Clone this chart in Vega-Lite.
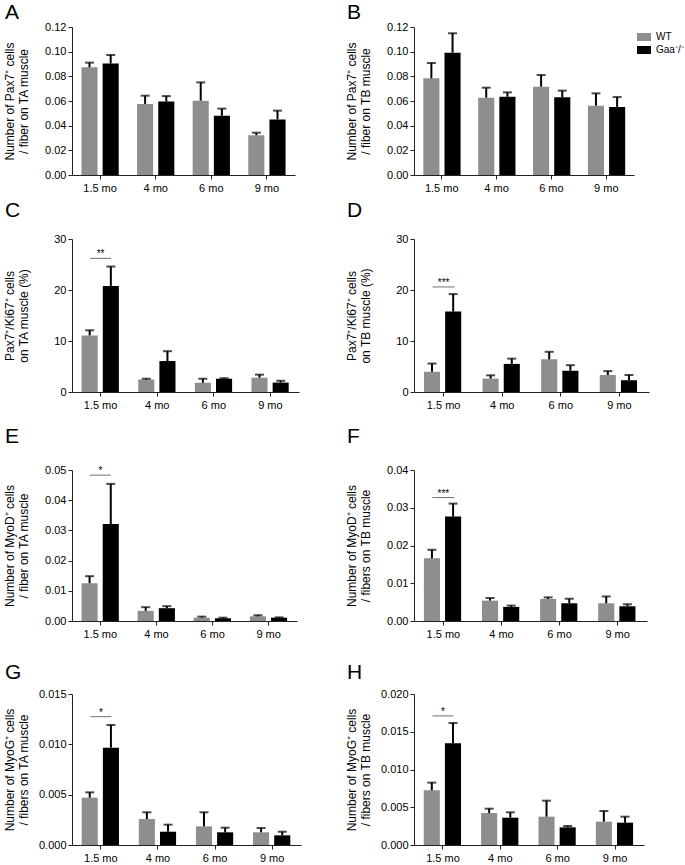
{
  "$schema": "https://vega.github.io/schema/vega-lite/v6.json",
  "padding": {"left": 3, "top": 2, "right": 0, "bottom": 0},
  "background": "white",
  "datasets": {
    "bars": [
      {"p": "A", "a": "1.5 mo", "g": "WT", "m": 0.0873, "u": 0.0911},
      {"p": "A", "a": "1.5 mo", "g": "Gaa⁻/⁻", "m": 0.0905, "u": 0.0973},
      {"p": "A", "a": "4 mo", "g": "WT", "m": 0.0576, "u": 0.0643},
      {"p": "A", "a": "4 mo", "g": "Gaa⁻/⁻", "m": 0.0595, "u": 0.064},
      {"p": "A", "a": "6 mo", "g": "WT", "m": 0.0603, "u": 0.0751},
      {"p": "A", "a": "6 mo", "g": "Gaa⁻/⁻", "m": 0.0481, "u": 0.0538},
      {"p": "A", "a": "9 mo", "g": "WT", "m": 0.0322, "u": 0.0343},
      {"p": "A", "a": "9 mo", "g": "Gaa⁻/⁻", "m": 0.0451, "u": 0.0522},
      {"p": "B", "a": "1.5 mo", "g": "WT", "m": 0.0784, "u": 0.0908},
      {"p": "B", "a": "1.5 mo", "g": "Gaa⁻/⁻", "m": 0.0992, "u": 0.1149},
      {"p": "B", "a": "4 mo", "g": "WT", "m": 0.0627, "u": 0.0708},
      {"p": "B", "a": "4 mo", "g": "Gaa⁻/⁻", "m": 0.0635, "u": 0.067},
      {"p": "B", "a": "6 mo", "g": "WT", "m": 0.0716, "u": 0.0811},
      {"p": "B", "a": "6 mo", "g": "Gaa⁻/⁻", "m": 0.063, "u": 0.0684},
      {"p": "B", "a": "9 mo", "g": "WT", "m": 0.0562, "u": 0.0662},
      {"p": "B", "a": "9 mo", "g": "Gaa⁻/⁻", "m": 0.0551, "u": 0.0632},
      {"p": "C", "a": "1.5 mo", "g": "WT", "m": 11.1, "u": 12.1},
      {"p": "C", "a": "1.5 mo", "g": "Gaa⁻/⁻", "m": 20.8, "u": 24.6},
      {"p": "C", "a": "4 mo", "g": "WT", "m": 2.44, "u": 2.6},
      {"p": "C", "a": "4 mo", "g": "Gaa⁻/⁻", "m": 6.07, "u": 8.0},
      {"p": "C", "a": "6 mo", "g": "WT", "m": 1.8, "u": 2.6},
      {"p": "C", "a": "6 mo", "g": "Gaa⁻/⁻", "m": 2.6, "u": 2.7},
      {"p": "C", "a": "9 mo", "g": "WT", "m": 2.8, "u": 3.4},
      {"p": "C", "a": "9 mo", "g": "Gaa⁻/⁻", "m": 1.85, "u": 2.2},
      {"p": "D", "a": "1.5 mo", "g": "WT", "m": 3.97, "u": 5.58},
      {"p": "D", "a": "1.5 mo", "g": "Gaa⁻/⁻", "m": 15.77, "u": 19.2},
      {"p": "D", "a": "4 mo", "g": "WT", "m": 2.63, "u": 3.27},
      {"p": "D", "a": "4 mo", "g": "Gaa⁻/⁻", "m": 5.51, "u": 6.54},
      {"p": "D", "a": "6 mo", "g": "WT", "m": 6.41, "u": 7.88},
      {"p": "D", "a": "6 mo", "g": "Gaa⁻/⁻", "m": 4.17, "u": 5.26},
      {"p": "D", "a": "9 mo", "g": "WT", "m": 3.33, "u": 4.1},
      {"p": "D", "a": "9 mo", "g": "Gaa⁻/⁻", "m": 2.31, "u": 3.33},
      {"p": "E", "a": "1.5 mo", "g": "WT", "m": 0.0125, "u": 0.01484},
      {"p": "E", "a": "1.5 mo", "g": "Gaa⁻/⁻", "m": 0.0321, "u": 0.0454},
      {"p": "E", "a": "4 mo", "g": "WT", "m": 0.00335, "u": 0.00458},
      {"p": "E", "a": "4 mo", "g": "Gaa⁻/⁻", "m": 0.00424, "u": 0.00491},
      {"p": "E", "a": "6 mo", "g": "WT", "m": 0.0011, "u": 0.00145},
      {"p": "E", "a": "6 mo", "g": "Gaa⁻/⁻", "m": 0.0009, "u": 0.0011},
      {"p": "E", "a": "9 mo", "g": "WT", "m": 0.00156, "u": 0.0019},
      {"p": "E", "a": "9 mo", "g": "Gaa⁻/⁻", "m": 0.0011, "u": 0.0012},
      {"p": "F", "a": "1.5 mo", "g": "WT", "m": 0.0166, "u": 0.01887},
      {"p": "F", "a": "1.5 mo", "g": "Gaa⁻/⁻", "m": 0.02765, "u": 0.0311},
      {"p": "F", "a": "4 mo", "g": "WT", "m": 0.00539, "u": 0.00609},
      {"p": "F", "a": "4 mo", "g": "Gaa⁻/⁻", "m": 0.00374, "u": 0.00409},
      {"p": "F", "a": "6 mo", "g": "WT", "m": 0.00583, "u": 0.00626},
      {"p": "F", "a": "6 mo", "g": "Gaa⁻/⁻", "m": 0.0047, "u": 0.0059},
      {"p": "F", "a": "9 mo", "g": "WT", "m": 0.0047, "u": 0.0065},
      {"p": "F", "a": "9 mo", "g": "Gaa⁻/⁻", "m": 0.0039, "u": 0.00443},
      {"p": "G", "a": "1.5 mo", "g": "WT", "m": 0.0047, "u": 0.00523},
      {"p": "G", "a": "1.5 mo", "g": "Gaa⁻/⁻", "m": 0.00967, "u": 0.01192},
      {"p": "G", "a": "4 mo", "g": "WT", "m": 0.00258, "u": 0.00325},
      {"p": "G", "a": "4 mo", "g": "Gaa⁻/⁻", "m": 0.00132, "u": 0.00202},
      {"p": "G", "a": "6 mo", "g": "WT", "m": 0.00185, "u": 0.00325},
      {"p": "G", "a": "6 mo", "g": "Gaa⁻/⁻", "m": 0.00126, "u": 0.00172},
      {"p": "G", "a": "9 mo", "g": "WT", "m": 0.00126, "u": 0.00169},
      {"p": "G", "a": "9 mo", "g": "Gaa⁻/⁻", "m": 0.00096, "u": 0.00132},
      {"p": "H", "a": "1.5 mo", "g": "WT", "m": 0.00724, "u": 0.00826},
      {"p": "H", "a": "1.5 mo", "g": "Gaa⁻/⁻", "m": 0.01347, "u": 0.01616},
      {"p": "H", "a": "4 mo", "g": "WT", "m": 0.00424, "u": 0.00481},
      {"p": "H", "a": "4 mo", "g": "Gaa⁻/⁻", "m": 0.00362, "u": 0.00433},
      {"p": "H", "a": "6 mo", "g": "WT", "m": 0.00375, "u": 0.00587},
      {"p": "H", "a": "6 mo", "g": "Gaa⁻/⁻", "m": 0.00234, "u": 0.00252},
      {"p": "H", "a": "9 mo", "g": "WT", "m": 0.00309, "u": 0.0045},
      {"p": "H", "a": "9 mo", "g": "Gaa⁻/⁻", "m": 0.00296, "u": 0.00375}
    ],
    "sig": [
      {"p": "C", "a": "1.5 mo", "y": 26.2, "s": "**"},
      {"p": "D", "a": "1.5 mo", "y": 20.6, "s": "***"},
      {"p": "E", "a": "1.5 mo", "y": 0.0483, "s": "*"},
      {"p": "F", "a": "1.5 mo", "y": 0.0327, "s": "***"},
      {"p": "G", "a": "1.5 mo", "y": 0.01275, "s": "*"},
      {"p": "H", "a": "1.5 mo", "y": 0.0171, "s": "*"}
    ]
  },
  "resolve": {"scale": {"color": "independent"}, "legend": {"color": "independent"}},
  "vconcat": [
    {
      "resolve": {"scale": {"color": "independent"}, "legend": {"color": "independent"}},
      "hconcat": [
        {
          "width": 223, "height": 148,
          "title": {"text": "A", "offset": -2},
          "data": {"name": "bars"},
          "transform": [{"filter": "datum.p === 'A'"}],
          "layer": [
            {"mark": {"type": "bar"}, "encoding": {
              "x": {"field": "a", "type": "nominal", "sort": ["1.5 mo", "4 mo", "6 mo", "9 mo"], "scale": {"paddingInner": 0.33, "paddingOuter": 0.17}, "title": null},
              "xOffset": {"field": "g", "type": "nominal", "sort": ["WT", "Gaa⁻/⁻"], "scale": {"paddingInner": 0.24}},
              "y": {"field": "m", "type": "quantitative", "scale": {"domain": [0, 0.12], "nice": false}, "axis": {"values": [0, 0.02, 0.04, 0.06, 0.08, 0.1, 0.12], "tickCount": 20, "format": ".2f", "title": ["Number of Pax7⁺ cells", "/ fiber on TA muscle"]}},
              "color": {"field": "g", "type": "nominal", "sort": ["WT", "Gaa⁻/⁻"], "scale": {"domain": ["WT", "Gaa⁻/⁻"], "range": ["#8e8e8e", "#000000"]}, "legend": null}}},
            {"mark": {"type": "rule", "strokeWidth": 2, "color": "#000"}, "encoding": {
              "x": {"field": "a", "type": "nominal", "sort": ["1.5 mo", "4 mo", "6 mo", "9 mo"], "title": null},
              "xOffset": {"field": "g", "type": "nominal", "sort": ["WT", "Gaa⁻/⁻"]},
              "y": {"field": "m", "type": "quantitative"}, "y2": {"field": "u"}}},
            {"mark": {"type": "tick", "size": 9, "thickness": 2, "color": "#000"}, "encoding": {
              "x": {"field": "a", "type": "nominal", "sort": ["1.5 mo", "4 mo", "6 mo", "9 mo"], "title": null},
              "xOffset": {"field": "g", "type": "nominal", "sort": ["WT", "Gaa⁻/⁻"]},
              "y": {"field": "u", "type": "quantitative"}}}
          ]
        },
        {
          "width": 220, "height": 148,
          "title": {"text": "B", "offset": -2},
          "data": {"name": "bars"},
          "transform": [{"filter": "datum.p === 'B'"}],
          "layer": [
            {"mark": {"type": "bar"}, "encoding": {
              "x": {"field": "a", "type": "nominal", "sort": ["1.5 mo", "4 mo", "6 mo", "9 mo"], "scale": {"paddingInner": 0.33, "paddingOuter": 0.17}, "title": null},
              "xOffset": {"field": "g", "type": "nominal", "sort": ["WT", "Gaa⁻/⁻"], "scale": {"paddingInner": 0.24}},
              "y": {"field": "m", "type": "quantitative", "scale": {"domain": [0, 0.12], "nice": false}, "axis": {"values": [0, 0.02, 0.04, 0.06, 0.08, 0.1, 0.12], "tickCount": 20, "format": ".2f", "title": ["Number of Pax7⁺ cells", "/ fiber on TB muscle"]}},
              "color": {"field": "g", "type": "nominal", "sort": ["WT", "Gaa⁻/⁻"], "scale": {"domain": ["WT", "Gaa⁻/⁻"], "range": ["#8e8e8e", "#000000"]}, "legend": {"orient": "right", "offset": 0, "padding": 3, "title": null}}}},
            {"mark": {"type": "rule", "strokeWidth": 2, "color": "#000"}, "encoding": {
              "x": {"field": "a", "type": "nominal", "sort": ["1.5 mo", "4 mo", "6 mo", "9 mo"], "title": null},
              "xOffset": {"field": "g", "type": "nominal", "sort": ["WT", "Gaa⁻/⁻"]},
              "y": {"field": "m", "type": "quantitative"}, "y2": {"field": "u"}}},
            {"mark": {"type": "tick", "size": 9, "thickness": 2, "color": "#000"}, "encoding": {
              "x": {"field": "a", "type": "nominal", "sort": ["1.5 mo", "4 mo", "6 mo", "9 mo"], "title": null},
              "xOffset": {"field": "g", "type": "nominal", "sort": ["WT", "Gaa⁻/⁻"]},
              "y": {"field": "u", "type": "quantitative"}}}
          ]
        }
      ],
      "spacing": 50
    },
    {
      "resolve": {"scale": {"color": "independent"}, "legend": {"color": "independent"}},
      "vconcat": [
        {
          "resolve": {"scale": {"color": "independent"}, "legend": {"color": "independent"}},
          "hconcat": [
            {
              "width": 227, "height": 153,
              "title": {"text": "C", "offset": 12},
              "layer": [
                {"data": {"name": "bars"}, "transform": [{"filter": "datum.p === 'C'"}], "mark": {"type": "bar"}, "encoding": {
                  "x": {"field": "a", "type": "nominal", "sort": ["1.5 mo", "4 mo", "6 mo", "9 mo"], "scale": {"paddingInner": 0.33, "paddingOuter": 0.17}, "title": null},
                  "xOffset": {"field": "g", "type": "nominal", "sort": ["WT", "Gaa⁻/⁻"], "scale": {"paddingInner": 0.24}},
                  "y": {"field": "m", "type": "quantitative", "scale": {"domain": [0, 30], "nice": false}, "axis": {"values": [0, 10, 20, 30], "tickCount": 20, "format": "d", "title": ["Pax7⁺/Ki67⁺ cells", "on TA muscle (%)"]}},
                  "color": {"field": "g", "type": "nominal", "sort": ["WT", "Gaa⁻/⁻"], "scale": {"domain": ["WT", "Gaa⁻/⁻"], "range": ["#8e8e8e", "#000000"]}, "legend": null}}},
                {"data": {"name": "bars"}, "transform": [{"filter": "datum.p === 'C'"}], "mark": {"type": "rule", "strokeWidth": 2, "color": "#000"}, "encoding": {
                  "x": {"field": "a", "type": "nominal", "sort": ["1.5 mo", "4 mo", "6 mo", "9 mo"], "title": null},
                  "xOffset": {"field": "g", "type": "nominal", "sort": ["WT", "Gaa⁻/⁻"]},
                  "y": {"field": "m", "type": "quantitative"}, "y2": {"field": "u"}}},
                {"data": {"name": "bars"}, "transform": [{"filter": "datum.p === 'C'"}], "mark": {"type": "tick", "size": 9, "thickness": 2, "color": "#000"}, "encoding": {
                  "x": {"field": "a", "type": "nominal", "sort": ["1.5 mo", "4 mo", "6 mo", "9 mo"], "title": null},
                  "xOffset": {"field": "g", "type": "nominal", "sort": ["WT", "Gaa⁻/⁻"]},
                  "y": {"field": "u", "type": "quantitative"}}},
                {"data": {"name": "sig"}, "transform": [{"filter": "datum.p === 'C'"}], "mark": {"type": "tick", "size": 21, "thickness": 1, "color": "#333"}, "encoding": {
                  "x": {"field": "a", "type": "nominal", "sort": ["1.5 mo", "4 mo", "6 mo", "9 mo"], "title": null},
                  "y": {"field": "y", "type": "quantitative"}}},
                {"data": {"name": "sig"}, "transform": [{"filter": "datum.p === 'C'"}], "mark": {"type": "text", "fontSize": 10, "baseline": "alphabetic", "dy": -1, "font": "Liberation Sans"}, "encoding": {
                  "x": {"field": "a", "type": "nominal", "sort": ["1.5 mo", "4 mo", "6 mo", "9 mo"], "title": null},
                  "y": {"field": "y", "type": "quantitative"}, "text": {"field": "s"}}}
              ]
            },
            {
              "width": 235, "height": 153,
              "title": {"text": "D", "offset": 12},
              "layer": [
                {"data": {"name": "bars"}, "transform": [{"filter": "datum.p === 'D'"}], "mark": {"type": "bar"}, "encoding": {
                  "x": {"field": "a", "type": "nominal", "sort": ["1.5 mo", "4 mo", "6 mo", "9 mo"], "scale": {"paddingInner": 0.33, "paddingOuter": 0.17}, "title": null},
                  "xOffset": {"field": "g", "type": "nominal", "sort": ["WT", "Gaa⁻/⁻"], "scale": {"paddingInner": 0.24}},
                  "y": {"field": "m", "type": "quantitative", "scale": {"domain": [0, 30], "nice": false}, "axis": {"values": [0, 10, 20, 30], "tickCount": 20, "format": "d", "title": ["Pax7⁺/Ki67⁺ cells", "on TB muscle (%)"]}},
                  "color": {"field": "g", "type": "nominal", "sort": ["WT", "Gaa⁻/⁻"], "scale": {"domain": ["WT", "Gaa⁻/⁻"], "range": ["#8e8e8e", "#000000"]}, "legend": null}}},
                {"data": {"name": "bars"}, "transform": [{"filter": "datum.p === 'D'"}], "mark": {"type": "rule", "strokeWidth": 2, "color": "#000"}, "encoding": {
                  "x": {"field": "a", "type": "nominal", "sort": ["1.5 mo", "4 mo", "6 mo", "9 mo"], "title": null},
                  "xOffset": {"field": "g", "type": "nominal", "sort": ["WT", "Gaa⁻/⁻"]},
                  "y": {"field": "m", "type": "quantitative"}, "y2": {"field": "u"}}},
                {"data": {"name": "bars"}, "transform": [{"filter": "datum.p === 'D'"}], "mark": {"type": "tick", "size": 9, "thickness": 2, "color": "#000"}, "encoding": {
                  "x": {"field": "a", "type": "nominal", "sort": ["1.5 mo", "4 mo", "6 mo", "9 mo"], "title": null},
                  "xOffset": {"field": "g", "type": "nominal", "sort": ["WT", "Gaa⁻/⁻"]},
                  "y": {"field": "u", "type": "quantitative"}}},
                {"data": {"name": "sig"}, "transform": [{"filter": "datum.p === 'D'"}], "mark": {"type": "tick", "size": 22, "thickness": 1, "color": "#333"}, "encoding": {
                  "x": {"field": "a", "type": "nominal", "sort": ["1.5 mo", "4 mo", "6 mo", "9 mo"], "title": null},
                  "y": {"field": "y", "type": "quantitative"}}},
                {"data": {"name": "sig"}, "transform": [{"filter": "datum.p === 'D'"}], "mark": {"type": "text", "fontSize": 10, "baseline": "alphabetic", "dy": -1, "font": "Liberation Sans"}, "encoding": {
                  "x": {"field": "a", "type": "nominal", "sort": ["1.5 mo", "4 mo", "6 mo", "9 mo"], "title": null},
                  "y": {"field": "y", "type": "quantitative"}, "text": {"field": "s"}}}
              ]
            }
          ],
          "spacing": 46
        },
        {
          "resolve": {"scale": {"color": "independent"}, "legend": {"color": "independent"}},
          "vconcat": [
            {
              "resolve": {"scale": {"color": "independent"}, "legend": {"color": "independent"}},
              "hconcat": [
                {
                  "width": 225, "height": 151,
                  "title": {"text": "E", "offset": 17},
                  "layer": [
                    {"data": {"name": "bars"}, "transform": [{"filter": "datum.p === 'E'"}], "mark": {"type": "bar"}, "encoding": {
                      "x": {"field": "a", "type": "nominal", "sort": ["1.5 mo", "4 mo", "6 mo", "9 mo"], "scale": {"paddingInner": 0.33, "paddingOuter": 0.17}, "title": null},
                      "xOffset": {"field": "g", "type": "nominal", "sort": ["WT", "Gaa⁻/⁻"], "scale": {"paddingInner": 0.24}},
                      "y": {"field": "m", "type": "quantitative", "scale": {"domain": [0, 0.05], "nice": false}, "axis": {"values": [0, 0.01, 0.02, 0.03, 0.04, 0.05], "tickCount": 20, "format": ".2f", "title": ["Number of MyoD⁺ cells", "/ fiber on TA muscle"]}},
                      "color": {"field": "g", "type": "nominal", "sort": ["WT", "Gaa⁻/⁻"], "scale": {"domain": ["WT", "Gaa⁻/⁻"], "range": ["#8e8e8e", "#000000"]}, "legend": null}}},
                    {"data": {"name": "bars"}, "transform": [{"filter": "datum.p === 'E'"}], "mark": {"type": "rule", "strokeWidth": 2, "color": "#000"}, "encoding": {
                      "x": {"field": "a", "type": "nominal", "sort": ["1.5 mo", "4 mo", "6 mo", "9 mo"], "title": null},
                      "xOffset": {"field": "g", "type": "nominal", "sort": ["WT", "Gaa⁻/⁻"]},
                      "y": {"field": "m", "type": "quantitative"}, "y2": {"field": "u"}}},
                    {"data": {"name": "bars"}, "transform": [{"filter": "datum.p === 'E'"}], "mark": {"type": "tick", "size": 9, "thickness": 2, "color": "#000"}, "encoding": {
                      "x": {"field": "a", "type": "nominal", "sort": ["1.5 mo", "4 mo", "6 mo", "9 mo"], "title": null},
                      "xOffset": {"field": "g", "type": "nominal", "sort": ["WT", "Gaa⁻/⁻"]},
                      "y": {"field": "u", "type": "quantitative"}}},
                    {"data": {"name": "sig"}, "transform": [{"filter": "datum.p === 'E'"}], "mark": {"type": "tick", "size": 21, "thickness": 1, "color": "#333"}, "encoding": {
                      "x": {"field": "a", "type": "nominal", "sort": ["1.5 mo", "4 mo", "6 mo", "9 mo"], "title": null},
                      "y": {"field": "y", "type": "quantitative"}}},
                    {"data": {"name": "sig"}, "transform": [{"filter": "datum.p === 'E'"}], "mark": {"type": "text", "fontSize": 10, "baseline": "alphabetic", "dy": -1, "font": "Liberation Sans"}, "encoding": {
                      "x": {"field": "a", "type": "nominal", "sort": ["1.5 mo", "4 mo", "6 mo", "9 mo"], "title": null},
                      "y": {"field": "y", "type": "quantitative"}, "text": {"field": "s"}}}
                  ]
                },
                {
                  "width": 233, "height": 151,
                  "title": {"text": "F", "offset": 17},
                  "layer": [
                    {"data": {"name": "bars"}, "transform": [{"filter": "datum.p === 'F'"}], "mark": {"type": "bar"}, "encoding": {
                      "x": {"field": "a", "type": "nominal", "sort": ["1.5 mo", "4 mo", "6 mo", "9 mo"], "scale": {"paddingInner": 0.33, "paddingOuter": 0.17}, "title": null},
                      "xOffset": {"field": "g", "type": "nominal", "sort": ["WT", "Gaa⁻/⁻"], "scale": {"paddingInner": 0.24}},
                      "y": {"field": "m", "type": "quantitative", "scale": {"domain": [0, 0.04], "nice": false}, "axis": {"values": [0, 0.01, 0.02, 0.03, 0.04], "tickCount": 20, "format": ".2f", "title": ["Number of MyoD⁺ cells", "/ fibers on TB muscle"]}},
                      "color": {"field": "g", "type": "nominal", "sort": ["WT", "Gaa⁻/⁻"], "scale": {"domain": ["WT", "Gaa⁻/⁻"], "range": ["#8e8e8e", "#000000"]}, "legend": null}}},
                    {"data": {"name": "bars"}, "transform": [{"filter": "datum.p === 'F'"}], "mark": {"type": "rule", "strokeWidth": 2, "color": "#000"}, "encoding": {
                      "x": {"field": "a", "type": "nominal", "sort": ["1.5 mo", "4 mo", "6 mo", "9 mo"], "title": null},
                      "xOffset": {"field": "g", "type": "nominal", "sort": ["WT", "Gaa⁻/⁻"]},
                      "y": {"field": "m", "type": "quantitative"}, "y2": {"field": "u"}}},
                    {"data": {"name": "bars"}, "transform": [{"filter": "datum.p === 'F'"}], "mark": {"type": "tick", "size": 9, "thickness": 2, "color": "#000"}, "encoding": {
                      "x": {"field": "a", "type": "nominal", "sort": ["1.5 mo", "4 mo", "6 mo", "9 mo"], "title": null},
                      "xOffset": {"field": "g", "type": "nominal", "sort": ["WT", "Gaa⁻/⁻"]},
                      "y": {"field": "u", "type": "quantitative"}}},
                    {"data": {"name": "sig"}, "transform": [{"filter": "datum.p === 'F'"}], "mark": {"type": "tick", "size": 22, "thickness": 1, "color": "#333"}, "encoding": {
                      "x": {"field": "a", "type": "nominal", "sort": ["1.5 mo", "4 mo", "6 mo", "9 mo"], "title": null},
                      "y": {"field": "y", "type": "quantitative"}}},
                    {"data": {"name": "sig"}, "transform": [{"filter": "datum.p === 'F'"}], "mark": {"type": "text", "fontSize": 10, "baseline": "alphabetic", "dy": -1, "font": "Liberation Sans"}, "encoding": {
                      "x": {"field": "a", "type": "nominal", "sort": ["1.5 mo", "4 mo", "6 mo", "9 mo"], "title": null},
                      "y": {"field": "y", "type": "quantitative"}, "text": {"field": "s"}}}
                  ]
                }
              ],
              "spacing": 48
            },
            {
              "resolve": {"scale": {"color": "independent"}, "legend": {"color": "independent"}},
              "hconcat": [
                {
                  "width": 229, "height": 151,
                  "title": {"text": "G", "offset": 5},
                  "layer": [
                    {"data": {"name": "bars"}, "transform": [{"filter": "datum.p === 'G'"}], "mark": {"type": "bar"}, "encoding": {
                      "x": {"field": "a", "type": "nominal", "sort": ["1.5 mo", "4 mo", "6 mo", "9 mo"], "scale": {"paddingInner": 0.33, "paddingOuter": 0.17}, "title": null},
                      "xOffset": {"field": "g", "type": "nominal", "sort": ["WT", "Gaa⁻/⁻"], "scale": {"paddingInner": 0.24}},
                      "y": {"field": "m", "type": "quantitative", "scale": {"domain": [0, 0.015], "nice": false}, "axis": {"values": [0, 0.005, 0.01, 0.015], "tickCount": 20, "format": ".3f", "title": ["Number of MyoG⁺ cells", "/ fibers on TA muscle"]}},
                      "color": {"field": "g", "type": "nominal", "sort": ["WT", "Gaa⁻/⁻"], "scale": {"domain": ["WT", "Gaa⁻/⁻"], "range": ["#8e8e8e", "#000000"]}, "legend": null}}},
                    {"data": {"name": "bars"}, "transform": [{"filter": "datum.p === 'G'"}], "mark": {"type": "rule", "strokeWidth": 2, "color": "#000"}, "encoding": {
                      "x": {"field": "a", "type": "nominal", "sort": ["1.5 mo", "4 mo", "6 mo", "9 mo"], "title": null},
                      "xOffset": {"field": "g", "type": "nominal", "sort": ["WT", "Gaa⁻/⁻"]},
                      "y": {"field": "m", "type": "quantitative"}, "y2": {"field": "u"}}},
                    {"data": {"name": "bars"}, "transform": [{"filter": "datum.p === 'G'"}], "mark": {"type": "tick", "size": 9, "thickness": 2, "color": "#000"}, "encoding": {
                      "x": {"field": "a", "type": "nominal", "sort": ["1.5 mo", "4 mo", "6 mo", "9 mo"], "title": null},
                      "xOffset": {"field": "g", "type": "nominal", "sort": ["WT", "Gaa⁻/⁻"]},
                      "y": {"field": "u", "type": "quantitative"}}},
                    {"data": {"name": "sig"}, "transform": [{"filter": "datum.p === 'G'"}], "mark": {"type": "tick", "size": 21, "thickness": 1, "color": "#333"}, "encoding": {
                      "x": {"field": "a", "type": "nominal", "sort": ["1.5 mo", "4 mo", "6 mo", "9 mo"], "title": null},
                      "y": {"field": "y", "type": "quantitative"}}},
                    {"data": {"name": "sig"}, "transform": [{"filter": "datum.p === 'G'"}], "mark": {"type": "text", "fontSize": 10, "baseline": "alphabetic", "dy": -1, "font": "Liberation Sans"}, "encoding": {
                      "x": {"field": "a", "type": "nominal", "sort": ["1.5 mo", "4 mo", "6 mo", "9 mo"], "title": null},
                      "y": {"field": "y", "type": "quantitative"}, "text": {"field": "s"}}}
                  ]
                },
                {
                  "width": 230, "height": 151,
                  "title": {"text": "H", "offset": 5},
                  "layer": [
                    {"data": {"name": "bars"}, "transform": [{"filter": "datum.p === 'H'"}], "mark": {"type": "bar"}, "encoding": {
                      "x": {"field": "a", "type": "nominal", "sort": ["1.5 mo", "4 mo", "6 mo", "9 mo"], "scale": {"paddingInner": 0.33, "paddingOuter": 0.17}, "title": null},
                      "xOffset": {"field": "g", "type": "nominal", "sort": ["WT", "Gaa⁻/⁻"], "scale": {"paddingInner": 0.24}},
                      "y": {"field": "m", "type": "quantitative", "scale": {"domain": [0, 0.02], "nice": false}, "axis": {"values": [0, 0.005, 0.01, 0.015, 0.02], "tickCount": 20, "format": ".3f", "title": ["Number of MyoG⁺ cells", "/ fibers on TB muscle"]}},
                      "color": {"field": "g", "type": "nominal", "sort": ["WT", "Gaa⁻/⁻"], "scale": {"domain": ["WT", "Gaa⁻/⁻"], "range": ["#8e8e8e", "#000000"]}, "legend": null}}},
                    {"data": {"name": "bars"}, "transform": [{"filter": "datum.p === 'H'"}], "mark": {"type": "rule", "strokeWidth": 2, "color": "#000"}, "encoding": {
                      "x": {"field": "a", "type": "nominal", "sort": ["1.5 mo", "4 mo", "6 mo", "9 mo"], "title": null},
                      "xOffset": {"field": "g", "type": "nominal", "sort": ["WT", "Gaa⁻/⁻"]},
                      "y": {"field": "m", "type": "quantitative"}, "y2": {"field": "u"}}},
                    {"data": {"name": "bars"}, "transform": [{"filter": "datum.p === 'H'"}], "mark": {"type": "tick", "size": 9, "thickness": 2, "color": "#000"}, "encoding": {
                      "x": {"field": "a", "type": "nominal", "sort": ["1.5 mo", "4 mo", "6 mo", "9 mo"], "title": null},
                      "xOffset": {"field": "g", "type": "nominal", "sort": ["WT", "Gaa⁻/⁻"]},
                      "y": {"field": "u", "type": "quantitative"}}},
                    {"data": {"name": "sig"}, "transform": [{"filter": "datum.p === 'H'"}], "mark": {"type": "tick", "size": 21, "thickness": 1, "color": "#333"}, "encoding": {
                      "x": {"field": "a", "type": "nominal", "sort": ["1.5 mo", "4 mo", "6 mo", "9 mo"], "title": null},
                      "y": {"field": "y", "type": "quantitative"}}},
                    {"data": {"name": "sig"}, "transform": [{"filter": "datum.p === 'H'"}], "mark": {"type": "text", "fontSize": 10, "baseline": "alphabetic", "dy": -1, "font": "Liberation Sans"}, "encoding": {
                      "x": {"field": "a", "type": "nominal", "sort": ["1.5 mo", "4 mo", "6 mo", "9 mo"], "title": null},
                      "y": {"field": "y", "type": "quantitative"}, "text": {"field": "s"}}}
                  ]
                }
              ],
              "spacing": 44
            }
          ],
          "spacing": 23
        }
      ],
      "spacing": 16
    }
  ],
  "spacing": 7,
  "config": {
    "view": {"stroke": null},
    "font": "Liberation Sans",
    "title": {"anchor": "start", "frame": "group", "fontSize": 21, "fontWeight": "normal", "font": "Liberation Sans", "color": "#000", "dx": -67},
    "axis": {"grid": false, "domainColor": "#222", "tickColor": "#222", "labelColor": "#000", "titleColor": "#000", "labelFont": "Liberation Sans", "titleFont": "Liberation Sans", "labelFontSize": 11, "titleFontSize": 12, "titleFontWeight": "normal", "tickSize": 4, "domainWidth": 1, "tickWidth": 1, "labelOverlap": false, "labelBound": false},
    "axisX": {"labelAngle": 0, "labelPadding": 3},
    "axisY": {"labelPadding": 2, "minExtent": 34, "maxExtent": 34, "titlePadding": 8, "titleLineHeight": 14},
    "legend": {"symbolType": "M-1,-0.57H1V0.57H-1Z", "symbolSize": 196, "symbolStrokeWidth": 0, "symbolOpacity": 1, "labelFont": "Liberation Sans", "labelFontSize": 10, "labelColor": "#000", "labelOffset": 5, "rowPadding": 1}
  }
}
